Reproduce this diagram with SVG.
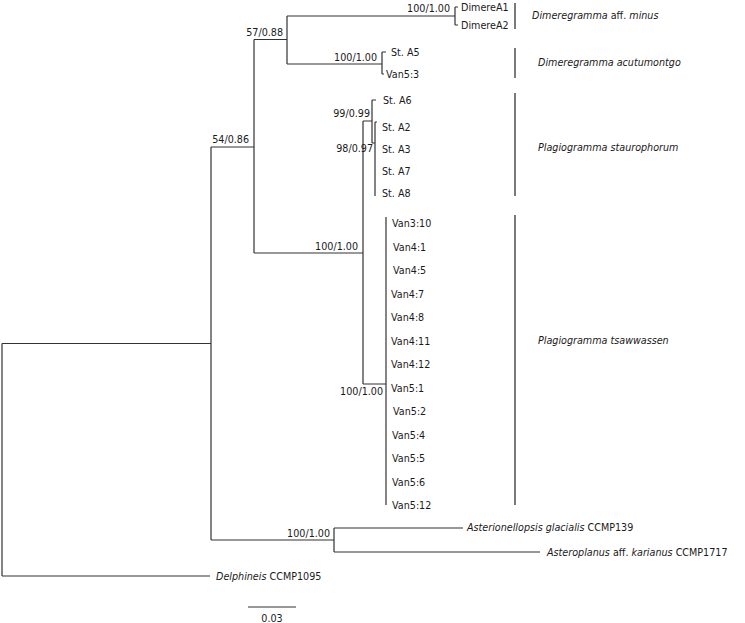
<svg xmlns="http://www.w3.org/2000/svg" width="745" height="623" viewBox="0 0 745 623">
<style>
text{font-family:"DejaVu Sans","Liberation Sans",sans-serif;font-size:9.6px;fill:#1a1a1a}
.i{font-style:italic}
.r{text-anchor:end}
.m{text-anchor:middle}
.br{fill:none;stroke:#333;stroke-width:1.2}
.bar{fill:none;stroke:#222;stroke-width:1.2}
</style>
<rect width="745" height="623" fill="#fff"/>
<g id="connectors" class="br">
<path d="M2,343.5V576M2,343.5H211M2,576H210"/>
<path d="M211,147V540M211,147H254M211,540H334"/>
<path d="M254,39.5V253M254,39.5H287M254,253H363"/>
<path d="M287,16V64M287,16H455M287,64H382"/>
<path d="M455,7V25M455,7H458M455,25H458"/>
<path d="M382,52V74M382,52H386M382,74H384"/>
<path d="M363,121V384M363,121H372M363,384H386"/>
<path d="M372,100V143M372,100H376M372,143H375"/>
<path d="M375,122V196M375,122H377"/>
<path d="M386,217V505"/>
<path d="M334,528V552M334,528H463M334,552H540"/>
</g>
<g id="support">
<text class="r" x="249" y="143">54/0.86</text>
<text class="r" x="283" y="36">57/0.88</text>
<text class="r" x="450" y="12">100/1.00</text>
<text class="r" x="377" y="61">100/1.00</text>
<text class="r" x="370" y="117">99/0.99</text>
<text class="r" x="373" y="152">98/0.97</text>
<text class="r" x="358" y="250">100/1.00</text>
<text class="r" x="383" y="395">100/1.00</text>
<text class="r" x="330" y="537">100/1.00</text>
</g>
<g id="tip-DimereA1"><text x="461" y="10.5">DimereA1</text></g>
<g id="tip-DimereA2"><text x="461" y="28.5">DimereA2</text></g>
<g id="tip-StA5"><text x="391" y="56">St. A5</text></g>
<g id="tip-Van5-3"><text x="386" y="77.5">Van5:3</text></g>
<g id="tip-StA6"><text x="383" y="104">St. A6</text></g>
<g id="tip-StA2"><text x="382" y="131">St. A2</text></g>
<g id="tip-StA3"><text x="382" y="153">St. A3</text></g>
<g id="tip-StA7"><text x="382" y="175">St. A7</text></g>
<g id="tip-StA8"><text x="382" y="197">St. A8</text></g>
<g id="tip-Van3-10"><text x="392" y="227">Van3:10</text></g>
<g id="tip-Van4-1"><text x="393" y="250.5">Van4:1</text></g>
<g id="tip-Van4-5"><text x="393" y="274">Van4:5</text></g>
<g id="tip-Van4-7"><text x="391" y="297.5">Van4:7</text></g>
<g id="tip-Van4-8"><text x="391" y="321">Van4:8</text></g>
<g id="tip-Van4-11"><text x="391" y="344.5">Van4:11</text></g>
<g id="tip-Van4-12"><text x="391" y="368">Van4:12</text></g>
<g id="tip-Van5-1"><text x="391" y="391.5">Van5:1</text></g>
<g id="tip-Van5-2"><text x="393" y="415">Van5:2</text></g>
<g id="tip-Van5-4"><text x="392" y="438.5">Van5:4</text></g>
<g id="tip-Van5-5"><text x="392" y="462">Van5:5</text></g>
<g id="tip-Van5-6"><text x="392" y="485.5">Van5:6</text></g>
<g id="tip-Van5-12"><text x="392" y="509">Van5:12</text></g>
<g id="tip-Asterionellopsis"><text x="467" y="531"><tspan class="i">Asterionellopsis glacialis</tspan> CCMP139</text></g>
<g id="tip-Asteroplanus"><text x="547" y="555.5"><tspan class="i">Asteroplanus</tspan> aff. <tspan class="i">karianus</tspan> CCMP1717</text></g>
<g id="tip-Delphineis"><text x="216" y="580"><tspan class="i">Delphineis</tspan> CCMP1095</text></g>
<g id="clade-minus"><path class="bar" d="M515,3V29"/><text x="532" y="19"><tspan class="i">Dimeregramma</tspan> aff. <tspan class="i">minus</tspan></text></g>
<g id="clade-acutumontgo"><path class="bar" d="M515,48V78"/><text class="i" x="538" y="66">Dimeregramma acutumontgo</text></g>
<g id="clade-staurophorum"><path class="bar" d="M515,93V196"/><text class="i" x="538" y="151">Plagiogramma staurophorum</text></g>
<g id="clade-tsawwassen"><path class="bar" d="M515,215V505"/><text class="i" x="538" y="344">Plagiogramma tsawwassen</text></g>
<g id="scale"><path class="br" d="M248,607H296"/><text class="m" x="272" y="622">0.03</text></g>
</svg>
